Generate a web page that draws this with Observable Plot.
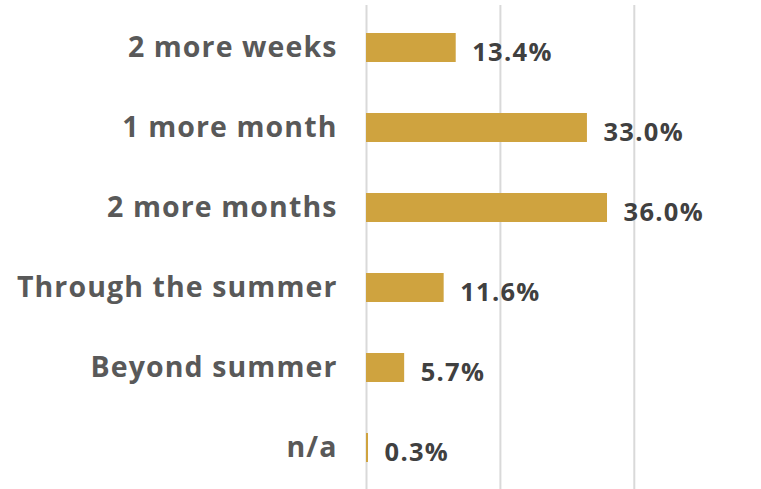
<!DOCTYPE html>
<html>
<head>
<meta charset="utf-8">
<script src="https://cdn.jsdelivr.net/npm/d3@7"></script>
<script src="https://cdn.jsdelivr.net/npm/@observablehq/plot@0.6"></script>
<style>
  html, body { margin: 0; padding: 0; background: #fff; }
  #chart svg { display: block; }
  #chart svg g[aria-label="y-axis tick label"] text { letter-spacing: 1.1px; }
  #chart svg g.values text { letter-spacing: 1.3px; }
</style>
</head>
<body>
<div id="chart"></div>
<script>
const categories = ["2 more weeks", "1 more month", "2 more months", "Through the summer", "Beyond summer", "n/a"];
const values = [13.4, 33.0, 36.0, 11.6, 5.7, 0.3];
const gridTicks = [0, 20, 40];

const data = categories.map((c, i) => ({category: c, value: values[i]}));

const chart = Plot.plot({
  width: 761,
  height: 489,
  marginLeft: 366,
  marginRight: 0,
  marginTop: 5,
  marginBottom: 0,
  style: {background: "#fff"},
  x: {domain: [0, 59], axis: null},
  y: {domain: categories, paddingInner: 0.64, paddingOuter: 0.32, label: null},
  marks: [
    Plot.ruleX(gridTicks, {stroke: "#d9d9d9", strokeWidth: 2}),
    Plot.barX(data, {x: "value", y: "category", fill: "#CFA33F"}),
    Plot.text(data, {
      x: "value", y: "category",
      text: d => d.value.toFixed(1) + "%",
      textAnchor: "start", dx: 16, dy: 5,
      fill: "#404040", fontSize: 25.5, fontWeight: "bold",
      fontFamily: "Open Sans", className: "values"
    }),
    Plot.axisY({
      tickSize: 0, tickPadding: 29, label: null,
      fontSize: 28.5, fontWeight: "bold", fontFamily: "Open Sans",
      color: "#595959"
    })
  ]
});
document.getElementById("chart").append(chart);
</script>
</body>
</html>
